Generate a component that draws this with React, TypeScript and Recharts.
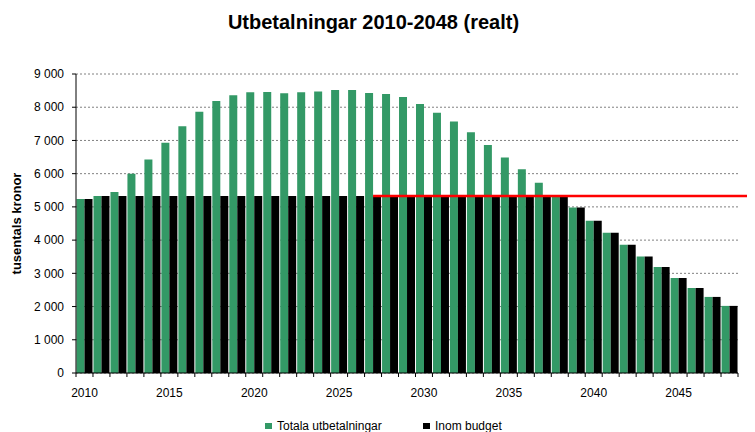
import React from "react";
import { BarChart, Bar, XAxis, YAxis, CartesianGrid, ReferenceLine } from "recharts";

const years = [
  "2010", "2011", "2012", "2013", "2014", "2015", "2016", "2017", "2018", "2019",
  "2020", "2021", "2022", "2023", "2024", "2025", "2026", "2027", "2028", "2029",
  "2030", "2031", "2032", "2033", "2034", "2035", "2036", "2037", "2038", "2039",
  "2040", "2041", "2042", "2043", "2044", "2045", "2046", "2047", "2048",
];

const totalaUtbetalningar = [
  5240, 5330, 5450, 6000, 6430, 6930, 7430, 7860, 8190, 8360,
  8450, 8460, 8420, 8450, 8470, 8520, 8520, 8430, 8400, 8310,
  8100, 7830, 7570, 7250, 6860, 6490, 6130, 5730, 5330, 4980,
  4580, 4220, 3860, 3510, 3190, 2860, 2560, 2290, 2020,
];

const inomBudget = [
  5240, 5330, 5330, 5330, 5330, 5330, 5330, 5330, 5330, 5330,
  5330, 5330, 5330, 5330, 5330, 5330, 5330, 5330, 5330, 5330,
  5330, 5330, 5330, 5330, 5330, 5330, 5330, 5330, 5330, 4980,
  4580, 4220, 3860, 3510, 3190, 2860, 2560, 2290, 2020,
];

const budgetTak = 5330;
const budgetStart = "2027";
const budgetEnd = "2048";

const yTicks = [0, 1000, 2000, 3000, 4000, 5000, 6000, 7000, 8000, 9000];

const data = years.map((year, i) => ({
  year,
  totala: totalaUtbetalningar[i],
  budget: inomBudget[i],
}));

const CHART_W = 747;
const CHART_H = 424;
const MARGIN = { top: 66, right: 17, bottom: 29, left: 0 };
const Y_W = 68;
const PLOT_W = CHART_W - Y_W - MARGIN.right - MARGIN.left;
const BAND = PLOT_W / years.length;
const FONT = "'Liberation Sans', Arial, sans-serif";
const GREEN = "#339966";

const fmt = (v: number) => (v >= 1000 ? `${Math.floor(v / 1000)} ${String(v % 1000).padStart(3, "0")}` : String(v));

const XTick = (props: any) => {
  const { x, y, payload, index } = props;
  const year = Number(payload.value);
  return (
    <g>
      <line x1={x - BAND / 2} y1={y} x2={x - BAND / 2} y2={y + 4} stroke="#000" />
      {index === years.length - 1 && (
        <line x1={x + BAND / 2} y1={y} x2={x + BAND / 2} y2={y + 4} stroke="#000" />
      )}
      {year % 5 === 0 && (
        <text x={x} y={y + 24} textAnchor="middle" fontSize={12} fontFamily={FONT} fill="#000">
          {payload.value}
        </text>
      )}
    </g>
  );
};

const RedLine = (props: any) => (
  <line x1={props.x1} y1={props.y1} x2={CHART_W} y2={props.y2} stroke="#ff0000" strokeWidth={2.5} />
);

export default function App() {
  return (
    <BarChart
      width={CHART_W}
      height={CHART_H}
      data={data}
      margin={MARGIN}
      barCategoryGap="3%"
      barGap={0}
      style={{ fontFamily: FONT }}
    >
      <text x={365.5} y={21} textAnchor="middle" fontSize={20} fontWeight="bold" fontFamily={FONT} fill="#000">
        Utbetalningar 2010-2048 (realt)
      </text>
      <CartesianGrid vertical={false} stroke="#808080" strokeDasharray="2 2" />
      <XAxis
        dataKey="year"
        interval={0}
        tickSize={0}
        tickMargin={0}
        tickLine={false}
        axisLine={{ stroke: "#000" }}
        height={30}
        tick={<XTick />}
      />
      <YAxis
        domain={[0, 9000]}
        ticks={yTicks}
        tickFormatter={fmt}
        width={Y_W}
        tickSize={4}
        tickMargin={8}
        axisLine={{ stroke: "#000" }}
        tickLine={{ stroke: "#000" }}
        tick={{ fontSize: 12, fill: "#000", fontFamily: FONT }}
        label={{
          value: "tusentals kronor",
          angle: -90,
          position: "insideLeft",
          offset: 8,
          style: { textAnchor: "middle", fontSize: 13, fontWeight: "bold", fill: "#000", fontFamily: FONT },
        }}
      />
      <YAxis
        yAxisId="right"
        orientation="right"
        domain={[0, 9000]}
        width={0}
        tick={false}
        tickLine={false}
        axisLine={{ stroke: "#999" }}
      />
      <Bar dataKey="totala" fill={GREEN} isAnimationActive={false} />
      <Bar dataKey="budget" fill="#000" isAnimationActive={false} />
      <ReferenceLine
        segment={[
          { x: budgetStart, y: budgetTak },
          { x: budgetEnd, y: budgetTak },
        ]}
        ifOverflow="visible"
        shape={RedLine}
      />
      <rect x={257} y={415} width={7} height={6} fill={GREEN} />
      <text x={269} y={422} fontSize={12} fontFamily={FONT} fill="#000">
        Totala utbetalningar
      </text>
      <rect x={415} y={415} width={7} height={6} fill="#000" />
      <text x={427} y={422} fontSize={12} fontFamily={FONT} fill="#000">
        Inom budget
      </text>
    </BarChart>
  );
}
